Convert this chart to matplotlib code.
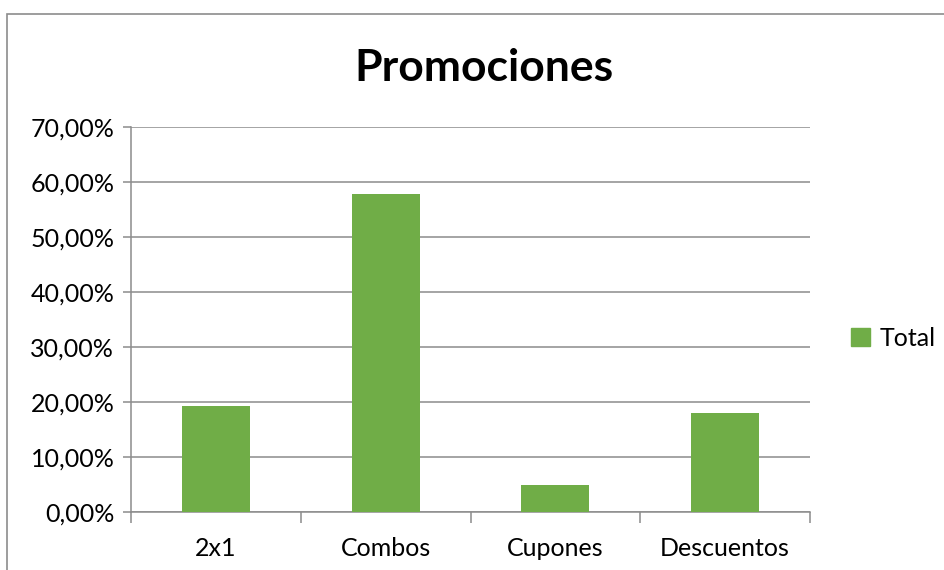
import numpy as np
import matplotlib.pyplot as plt
from matplotlib.patches import Rectangle, Patch
from matplotlib.ticker import FuncFormatter, MultipleLocator

# Promociones - share of responses per promotion type
categorias = ['2x1', 'Combos', 'Cupones', 'Descuentos']
total = [0.1935, 0.578, 0.0485, 0.180]

plt.rcParams['font.family'] = ['Lato', 'DejaVu Sans']

W, H = 944, 570
fig = plt.figure(figsize=(W / 100, H / 100), dpi=100)

# chart area border (runs off the right and bottom edges)
fig.patches.append(Rectangle((7 / W, -0.1), 1.2, 1 - 14 / H + 0.1,
                             transform=fig.transFigure, fill=False,
                             edgecolor='#8c8c8c', linewidth=1.2))

ax = fig.add_axes([131 / W, 1 - 512 / H, 679 / W, 385 / H])

x = np.arange(len(categorias))
ax.bar(x, total, width=0.4, color='#70AD47', zorder=3)

ax.set_xlim(-0.5, len(categorias) - 0.5)
ax.set_ylim(0, 0.70)
ax.yaxis.set_major_locator(MultipleLocator(0.10))
ax.yaxis.set_major_formatter(FuncFormatter(lambda v, p: f'{v * 100:.2f}%'.replace('.', ',')))
ax.grid(axis='y', color='#8c8c8c', linewidth=1.1, zorder=0)

# category labels centred, ticks between categories
ax.set_xticks(x)
ax.set_xticklabels(categorias, fontsize=18)
ax.tick_params(axis='x', length=0, pad=18)
ax.set_xticks(np.arange(-0.5, len(categorias)), minor=True)
ax.tick_params(axis='x', which='minor', length=8, width=1.1, color='#8c8c8c')
ax.tick_params(axis='y', labelsize=18, length=6, width=1.1, color='#8c8c8c', pad=6)

for s in ['top', 'right']:
    ax.spines[s].set_visible(False)
for s in ['left', 'bottom']:
    ax.spines[s].set_color('#8c8c8c')
    ax.spines[s].set_linewidth(1.1)

fig.text(484 / W, 1 - 68 / H, 'Promociones', ha='center', va='center',
         fontsize=32, fontweight='bold')

fig.legend(handles=[Patch(color='#70AD47', label='Total')],
           loc='center left', bbox_to_anchor=(851 / W, 1 - 338 / H),
           frameon=False, fontsize=18, handlelength=0.75, handleheight=0.75,
           handletextpad=0.4, borderpad=0, borderaxespad=0)

fig.savefig('out.png', dpi=100, facecolor='white')
